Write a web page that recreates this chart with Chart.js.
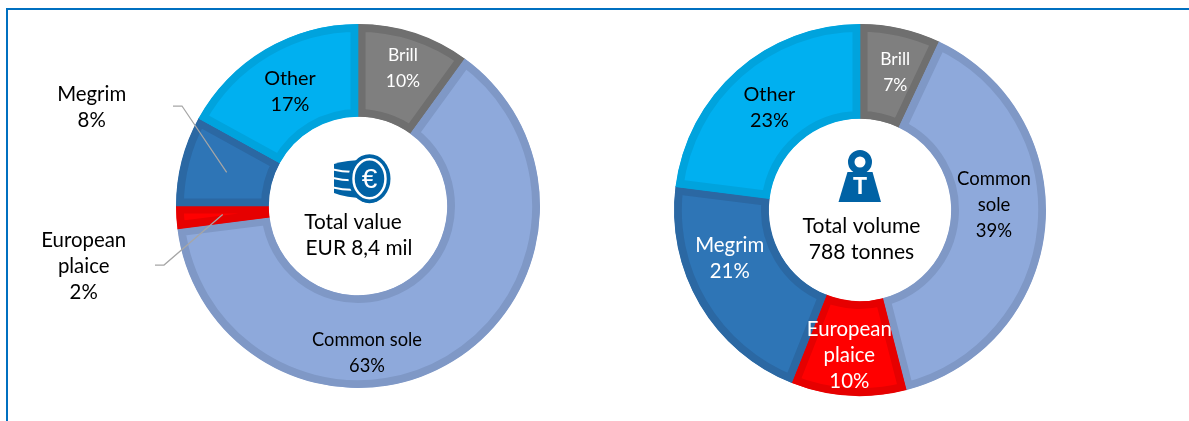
<!DOCTYPE html>
<html>
<head>
<meta charset="utf-8">
<title>Landings by species</title>
<script src="https://cdn.jsdelivr.net/npm/chart.js@4"></script>
<style>
    html, body { margin: 0; padding: 0; background: #fff; overflow: hidden; }
    #frame {
        position: absolute; left: 6px; top: 8px; right: 0; bottom: 0;
        border-top: 2px solid #0070c0; border-left: 2px solid #0070c0;
    }
    canvas { position: absolute; }
    #value-chart { left: 0; top: 0; }
    #volume-chart { left: 640px; top: 0; }
</style>
</head>
<body>
<div id="frame"></div>
<canvas id="value-chart" width="716" height="412"></canvas>
<canvas id="volume-chart" width="440" height="420"></canvas>
<script>
const species = ['Brill', 'Common sole', 'European plaice', 'Megrim', 'Other'];
const valueShares = [10, 63, 2, 8, 17];
const volumeShares = [7, 39, 10, 21, 23];

const fillColors = ['#7f7f7f', '#8ea9db', '#ff0000', '#2e75b6', '#00b0f0'];
const edgeColors = ['#6f6f6f', '#7f98c6', '#e60000', '#2b68a3', '#00a3dd'];

const FONT_FAMILY = 'Lato, Carlito, sans-serif';
const ICON_BLUE = '#0062a5';
const LINE_HEIGHT = 26;

// Label layout per slice: wrapped name, size, text colour, offset from the slice centre
const valueLabels = [
    { name: ['Brill'], size: 17.5, color: '#fff', dx: 3, dy: -9 },
    { name: ['Common sole'], size: 18.3, color: '#000', dx: -60, dy: 30 },
    { name: ['European', 'plaice'], size: 20.4, color: '#000', dx: -139, dy: 52, leader: [[164, 265], [155, 265]] },
    { name: ['Megrim'], size: 20.4, color: '#000', dx: -135, dy: -65, leader: [[182, 106], [173, 106]] },
    { name: ['Other'], size: 19.8, color: '#000', dx: 1, dy: 2 },
];
const volumeLabels = [
    { name: ['Brill'], size: 17.5, color: '#fff', dx: 5, dy: -2 },
    { name: ['Common', 'sole'], size: 18.5, color: '#000', dx: -4, dy: -18.5 },
    { name: ['European', 'plaice'], size: 20.4, color: '#fff', dx: -2, dy: 7 },
    { name: ['Megrim'], size: 20.4, color: '#fff', dx: -11, dy: -22 },
    { name: ['Other'], size: 19.8, color: '#000', dx: 1, dy: 2 },
];

const sliceLabels = {
    id: 'sliceLabels',
    afterDatasetsDraw(chart, args, opts) {
        const ctx = chart.ctx;
        const shares = chart.data.datasets[0].data;
        ctx.save();
        ctx.textAlign = 'center';
        ctx.textBaseline = 'middle';
        chart.getDatasetMeta(0).data.forEach((arc, i) => {
            const pos = arc.tooltipPosition();
            const label = opts.labels[i];
            if (label.leader) {
                ctx.strokeStyle = '#a6a6a6';
                ctx.lineWidth = 1.25;
                ctx.beginPath();
                ctx.moveTo(pos.x, pos.y);
                label.leader.forEach(p => ctx.lineTo(p[0], p[1]));
                ctx.stroke();
            }
            const lines = [...label.name, shares[i] + '%'];
            const top = pos.y + label.dy - (lines.length - 1) * LINE_HEIGHT / 2;
            ctx.font = label.size + 'px ' + FONT_FAMILY;
            ctx.fillStyle = label.color;
            lines.forEach((line, n) => {
                ctx.fillText(line, pos.x + label.dx, top + n * LINE_HEIGHT);
            });
        });
        ctx.restore();
    },
};

// Caption and pictogram in the hole of the doughnut
const centerBadge = {
    id: 'centerBadge',
    afterDatasetsDraw(chart, args, opts) {
        const ctx = chart.ctx;
        const arc = chart.getDatasetMeta(0).data[0];
        ctx.save();
        ctx.translate(arc.x, arc.y);
        opts.icon(ctx);
        ctx.font = opts.captionSize + 'px ' + FONT_FAMILY;
        ctx.fillStyle = '#000';
        ctx.textAlign = 'center';
        ctx.textBaseline = 'middle';
        opts.caption.forEach((line, n) => ctx.fillText(line, opts.captionX[n], opts.captionY + n * LINE_HEIGHT));
        ctx.restore();
    },
};

function drawCoins(ctx) {
    ctx.fillStyle = ICON_BLUE;
    ctx.beginPath();
    ctx.moveTo(-24, -42);
    ctx.quadraticCurveTo(-12, -46, 8, -46);
    ctx.lineTo(8, -8);
    ctx.quadraticCurveTo(-12, -8, -24, -13);
    ctx.closePath();
    ctx.fill();

    // white gaps between the stacked coins
    ctx.strokeStyle = '#fff';
    ctx.lineWidth = 2;
    [-36.5, -28, -18.5].forEach(y => {
        ctx.beginPath();
        ctx.moveTo(-25, y);
        ctx.quadraticCurveTo(-12, y + 3, -2, y + 2);
        ctx.stroke();
    });

    ctx.beginPath();
    ctx.ellipse(11.5, -27.3, 21, 24.5, 0, 0, Math.PI * 2);
    ctx.fill();
    ctx.lineWidth = 2.5;
    ctx.beginPath();
    ctx.ellipse(11.5, -27.3, 16, 19.5, 0, 0, Math.PI * 2);
    ctx.stroke();
    ctx.fillStyle = '#fff';
    ctx.font = '28px "Liberation Sans", sans-serif';
    ctx.textAlign = 'center';
    ctx.textBaseline = 'middle';
    ctx.fillText('€', 11.5, -26);
}

function drawWeight(ctx) {
    ctx.fillStyle = ICON_BLUE;
    ctx.beginPath();
    ctx.arc(0, -48, 12, 0, Math.PI * 2);
    ctx.arc(0, -48, 5.5, 0, Math.PI * 2, true);
    ctx.fill();
    ctx.beginPath();
    ctx.moveTo(-12.5, -38);
    ctx.lineTo(12.5, -38);
    ctx.lineTo(21, -8);
    ctx.lineTo(-21.5, -8);
    ctx.closePath();
    ctx.fill();
    ctx.fillStyle = '#fff';
    ctx.font = 'bold 23px "Liberation Sans", sans-serif';
    ctx.textAlign = 'center';
    ctx.textBaseline = 'middle';
    ctx.fillText('T', 0, -22);
}

function renderDoughnut(canvasId, shares, labels, badge) {
    return new Chart(document.getElementById(canvasId), {
        type: 'doughnut',
        data: {
            labels: species,
            datasets: [{
                data: shares,
                backgroundColor: fillColors,
                borderColor: edgeColors,
                borderWidth: 7.5,
                borderAlign: 'inner',
            }],
        },
        options: {
            animation: false,
            responsive: false,
            devicePixelRatio: 1,
            cutout: '49%',
            layout: { padding: { top: 24, bottom: 24 } },
            plugins: {
                legend: { display: false },
                tooltip: { enabled: false },
                sliceLabels: { labels },
                centerBadge: badge,
            },
        },
        plugins: [sliceLabels, centerBadge],
    });
}

renderDoughnut('value-chart', valueShares, valueLabels, {
    caption: ['Total value', 'EUR 8,4 mil'], captionX: [-5, 1], captionY: 16, captionSize: 20.8, icon: drawCoins,
});
renderDoughnut('volume-chart', volumeShares, volumeLabels, {
    caption: ['Total volume', '788 tonnes'], captionX: [1.5, 1.5], captionY: 16, captionSize: 21.1, icon: drawWeight,
});
</script>
</body>
</html>
